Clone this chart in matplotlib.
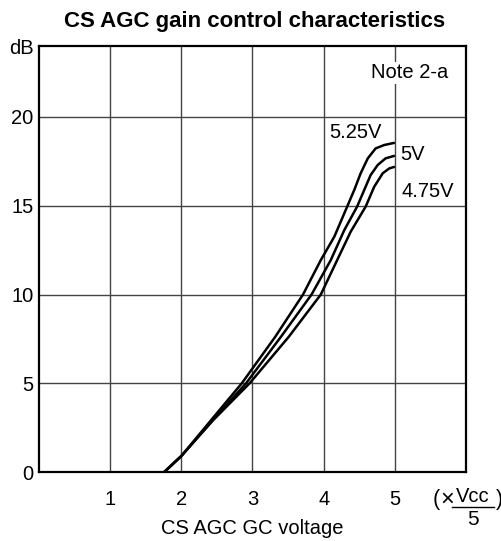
import matplotlib
matplotlib.use("Agg")
import matplotlib.pyplot as plt
from matplotlib.lines import Line2D

plt.rcParams['font.family'] = ['Liberation Sans', 'DejaVu Sans']

# Data
x_525 = [1.76, 2.0, 2.42, 2.85, 3.32, 3.71, 3.96, 4.15, 4.33, 4.43, 4.52, 4.62, 4.73, 4.85, 5.0]
y_525 = [0.0, 0.9, 2.93, 5.0, 7.62, 10.0, 11.94, 13.26, 14.95, 15.89, 16.83, 17.67, 18.23, 18.42, 18.55]
x_500 = [1.76, 2.0, 2.44, 2.91, 3.40, 3.83, 4.10, 4.29, 4.47, 4.57, 4.66, 4.76, 4.87, 5.0]
y_500 = [0.0, 0.9, 2.93, 5.0, 7.62, 10.0, 11.94, 13.63, 14.95, 15.89, 16.73, 17.3, 17.67, 17.82]
x_475 = [1.76, 2.0, 2.45, 2.96, 3.51, 3.96, 4.19, 4.38, 4.59, 4.71, 4.83, 4.92, 5.0]
y_475 = [0.0, 0.9, 2.93, 5.0, 7.62, 10.0, 11.94, 13.54, 14.95, 16.07, 16.83, 17.1, 17.2]

series_labels = ['5.25V', '5V', '4.75V']
x_ticks = [1, 2, 3, 4, 5]
y_ticks = [0, 5, 10, 15, 20]

W, H = 502, 541
fig = plt.figure(figsize=(W / 100, H / 100), dpi=100)
ax = fig.add_axes([39 / W, 69 / H, 427 / W, 426 / H])

ax.set_xlim(0, 6)
ax.set_ylim(0, 24)
ax.set_xticks(x_ticks)
ax.set_yticks(y_ticks)
ax.set_xticklabels([str(t) for t in x_ticks], fontsize=14.5)
ax.set_yticklabels([str(t) for t in y_ticks], fontsize=14.5)
ax.tick_params(axis='x', length=0, pad=13)
ax.tick_params(axis='y', length=0, pad=4)
ax.grid(True, color='#444444', linewidth=1.0)
ax.set_axisbelow(True)
for s in ax.spines.values():
    s.set_linewidth(1.6)
    s.set_color('black')

for xs, ys in [(x_525, y_525), (x_500, y_500), (x_475, y_475)]:
    ax.plot(xs, ys, color='black', linewidth=1.8, solid_joinstyle='round',
            solid_capstyle='butt')

ax.text(4.45, 19.13, series_labels[0], fontsize=14.5, ha='center', va='center')
ax.text(5.08, 17.86, series_labels[1], fontsize=14.5, ha='left', va='center')
ax.text(5.1, 15.83, series_labels[2], fontsize=14.5, ha='left', va='center')

ax.text(5.21, 22.5, 'Note 2-a', fontsize=14.5, ha='center', va='center',
        bbox=dict(facecolor='white', edgecolor='none', pad=1))

ax.text(-0.08, 23.85, 'dB', fontsize=14.5, ha='right', va='center')

# unit annotation (x Vcc/5)
fig.text(433 / W, 1 - 500 / H, '(', fontsize=15.5, ha='left', va='center')
fig.text(440 / W, 1 - 500 / H, '\u00d7', fontsize=17, ha='left', va='center')
fig.text(473 / W, 1 - 502 / H, 'Vcc', fontsize=14.5, ha='center', va='baseline')
fig.add_artist(Line2D([452 / W, 494 / W], [1 - 507 / H, 1 - 507 / H],
                      transform=fig.transFigure, color='black', linewidth=1.0))
fig.text(473 / W, 1 - 525 / H, '5', fontsize=15, ha='center', va='baseline')
fig.text(496 / W, 1 - 500 / H, ')', fontsize=15.5, ha='left', va='center')

fig.text(252 / W, 1 - 534 / H, 'CS AGC GC voltage', fontsize=14.5,
         ha='center', va='baseline')
fig.text(255 / W, 1 - 21 / H, 'CS AGC gain control characteristics',
         fontsize=16, fontweight='bold', ha='center', va='center')

fig.savefig('out.png', dpi=100)
